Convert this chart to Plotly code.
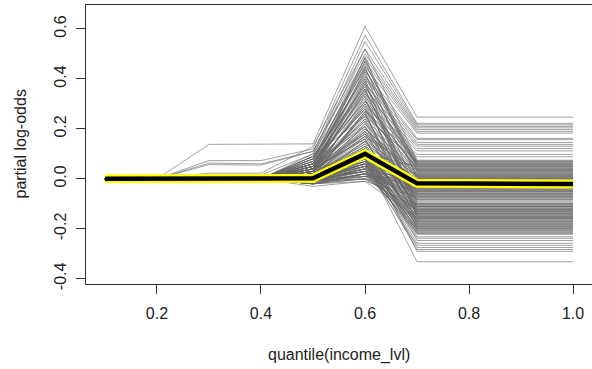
import plotly.graph_objects as go

# Quantile grid of income_lvl at which the partial dependence was evaluated
quantile_x = [0.1, 0.2, 0.3, 0.4, 0.5, 0.6, 0.7, 0.8, 0.9, 1.0]

# Partial dependence (average) curve, log-odds scale
pd_y = [0.0, 0.0, 0.0, 0.0, 0.002, 0.100, -0.018, -0.019, -0.020, -0.021]

# Individual conditional expectation curves.  Every curve is 0 at the
# 0.1 and 0.2 quantiles (and at 0.3/0.4 unless listed in early_idx) and
# stays flat from the 0.7 quantile onwards.
ice_at_05 = [
    0.14, 0.12, 0.10, 0.09, 0.11, 0.07, 0.08, 0.06, 0.05, 0.09,
    0.04, 0.06, 0.03, 0.05, 0.02, 0.04, 0.01,
    0.13, 0.08, 0.10, 0.05, 0.07, 0.04, 0.06, 0.09, 0.03, 0.05,
    0.11, 0.02, 0.06, 0.03, 0.04, 0.01, 0.02, 0.03, 0.05, 0.01,
    0.02, 0.00, 0.03, 0.01, 0.02, 0.00, 0.04, 0.00, 0.01, -0.01,
    0.02, 0.00, 0.01, -0.01, 0.00, 0.00, 0.01, -0.02, 0.00, -0.01,
    0.00, -0.01, 0.00, -0.02, 0.07, 0.00, 0.06, -0.01, 0.04, -0.02,
    0.03, 0.00, 0.02, 0.01, 0.00, -0.01, 0.02, 0.00, -0.01, 0.01,
    0.06, 0.04, 0.00, 0.03, -0.01, 0.05, 0.01, -0.02, 0.03, 0.00,
    0.02, -0.01, 0.08, 0.01, 0.02, -0.02, 0.03, 0.00, 0.01, 0.05,
    -0.01, 0.02, -0.02, 0.01, 0.00, 0.04, 0.01, -0.01, 0.02, 0.00,
    0.01, -0.01, 0.02, 0.00, -0.02, 0.01, 0.00, 0.02, 0.01, -0.01,
    0.00, 0.01, -0.01, 0.07, 0.03, -0.02, 0.04, -0.03, 0.02,
    0.00, -0.01, 0.01, 0.00, -0.02, 0.00, -0.01, 0.01, -0.01,
    0.05, 0.03, 0.08, 0.02, 0.06, 0.04, 0.01, 0.07, 0.03, 0.05,
    0.02, 0.09, 0.04, 0.00, 0.06, 0.03, 0.01, 0.05, 0.02, 0.04,
    0.00, 0.03, 0.06, 0.01, 0.02,
]
ice_at_06 = [
    0.610, 0.575, 0.550, 0.520, 0.500, 0.485, 0.470, 0.450, 0.430, 0.410,
    0.400, 0.380, 0.360, 0.340, 0.310, 0.290, 0.270,
    0.52, 0.46, 0.44, 0.39, 0.42, 0.35, 0.33, 0.37, 0.30, 0.28,
    0.48, 0.26, 0.31, 0.24, 0.22, 0.27, 0.20, 0.18, 0.23, 0.15,
    0.17, 0.13, 0.19, 0.11, 0.14, 0.09, 0.16, 0.08, 0.12, 0.06,
    0.10, 0.05, 0.07, 0.04, 0.09, 0.03, 0.06, 0.02, 0.05, 0.01,
    0.04, 0.00, 0.03, 0.02, 0.45, 0.01, 0.38, 0.00, 0.29, -0.01,
    0.21, 0.03, 0.12, 0.08, 0.04, 0.02, 0.10, 0.06, 0.01, 0.07,
    0.34, 0.25, 0.05, 0.18, 0.02, 0.28, 0.10, 0.00, 0.21, 0.07,
    0.15, 0.03, 0.40, 0.08, 0.12, 0.01, 0.19, 0.06, 0.09, 0.32,
    0.04, 0.13, 0.02, 0.11, 0.05, 0.23, 0.08, 0.03, 0.16, 0.06,
    0.10, 0.04, 0.14, 0.07, 0.02, 0.09, 0.05, 0.12, 0.08, 0.03,
    0.06, 0.11, 0.04, 0.36, 0.17, 0.00, 0.26, -0.01, 0.13,
    0.10, 0.06, 0.12, 0.08, 0.05, 0.09, 0.07, 0.11, 0.08,
    0.47, 0.43, 0.41, 0.39, 0.37, 0.35, 0.33, 0.31, 0.30, 0.28,
    0.27, 0.25, 0.24, 0.22, 0.21, 0.20, 0.19, 0.18, 0.17, 0.16,
    0.15, 0.44, 0.36, 0.26, 0.49,
]
ice_at_07 = [
    0.247, 0.222, 0.216, 0.210, 0.204, 0.197, 0.190, 0.183, 0.162, 0.157,
    0.146, 0.138, 0.131, 0.121, 0.112, 0.098, 0.088,
    0.075, 0.072, 0.068, 0.066, 0.062, 0.059, 0.056, 0.052, 0.049, 0.046,
    0.043, 0.040, 0.037, 0.034, 0.031, 0.028, 0.025, 0.022, 0.019, 0.016,
    0.013, 0.010, 0.007, 0.004, 0.001, -0.002, -0.005, -0.008, -0.011, -0.014,
    -0.017, -0.020, -0.023, -0.026, -0.029, -0.032, -0.035, -0.038, -0.041, -0.044,
    -0.047, -0.050, -0.053, -0.056, -0.059, -0.062, -0.065, -0.068, -0.071, -0.074,
    -0.077, -0.080, -0.083, 0.020, -0.010, -0.030, 0.050, -0.060, 0.000, -0.045,
    -0.096, -0.099, -0.102, -0.105, -0.108, -0.111, -0.114, -0.117, -0.120, -0.123,
    -0.126, -0.129, -0.132, -0.135, -0.138, -0.141, -0.144, -0.147, -0.150, -0.153,
    -0.156, -0.159, -0.162, -0.165, -0.168, -0.171, -0.174, -0.177, -0.180, -0.183,
    -0.186, -0.189, -0.192, -0.195, -0.198, -0.201, -0.204, -0.207, -0.210, -0.213,
    -0.216, -0.219, -0.222, -0.100, -0.110, -0.125, -0.140, -0.155, -0.170,
    -0.232, -0.238, -0.247, -0.258, -0.266, -0.275, -0.283, -0.290, -0.332,
    0.030, -0.120, 0.010, -0.150, 0.060, -0.050, -0.180, 0.040, -0.090, 0.000,
    -0.200, 0.070, -0.130, -0.030, -0.160, 0.015, -0.070, -0.110, 0.035, -0.190,
    -0.040, 0.055, -0.085, -0.140, 0.005,
]

# Curves that already move at the 0.3 / 0.4 quantiles
early_idx = [0, 1, 4, 27, 17, 2]
early_at_03 = [0.138, 0.073, 0.063, 0.057, 0.023, 0.015]
early_at_04 = [0.138, 0.073, 0.060, 0.055, 0.023, 0.015]

x_ticks = [0.2, 0.4, 0.6, 0.8, 1.0]
x_tick_text = ["0.2", "0.4", "0.6", "0.8", "1.0"]
y_ticks = [-0.4, -0.2, 0.0, 0.2, 0.4, 0.6]
y_tick_text = ["-0.4", "-0.2", "0.0", "0.2", "0.4", "0.6"]

x_title = "quantile(income_lvl)"
y_title = "partial log-odds"

FONT = "Liberation Sans, Arial, sans-serif"
AXIS_COLOR = "#333333"
TEXT_COLOR = "#222222"

fig = go.Figure()

early_lookup = {i: (a, b) for i, a, b in zip(early_idx, early_at_03, early_at_04)}
for i, (v5, v6, v7) in enumerate(zip(ice_at_05, ice_at_06, ice_at_07)):
    v3, v4 = early_lookup.get(i, (0.0, 0.0))
    y = [0.0, 0.0, v3, v4, v5, v6, v7, v7, v7, v7]
    fig.add_trace(go.Scatter(
        x=quantile_x, y=y, mode="lines",
        line=dict(color="rgba(100,100,100,0.6)", width=1),
        hoverinfo="skip", showlegend=False,
    ))

# Average curve: yellow halo under a black line
fig.add_trace(go.Scatter(
    x=quantile_x, y=pd_y, mode="lines",
    line=dict(color="#ffff00", width=9),
    hoverinfo="skip", showlegend=False,
))
fig.add_trace(go.Scatter(
    x=quantile_x, y=pd_y, mode="lines",
    line=dict(color="#000000", width=4.5),
    showlegend=False,
))

fig.update_layout(
    width=592, height=369,
    margin=dict(l=86, r=0, t=5, b=85),
    paper_bgcolor="white", plot_bgcolor="white",
    font=dict(family=FONT, size=16, color=TEXT_COLOR),
    xaxis=dict(
        range=[0.0635, 1.0365],
        tickvals=x_ticks, ticktext=x_tick_text,
        ticks="outside", ticklen=9, tickwidth=1, tickcolor=AXIS_COLOR,
        showline=True, linecolor=AXIS_COLOR, linewidth=1, mirror=True,
        showgrid=False, zeroline=False,
        ticklabelstandoff=6,
    ),
    yaxis=dict(
        range=[-0.421, 0.696],
        tickvals=y_ticks, ticktext=y_tick_text, tickangle=-90,
        ticks="outside", ticklen=9, tickwidth=1, tickcolor=AXIS_COLOR,
        showline=True, linecolor=AXIS_COLOR, linewidth=1,
        showgrid=False, zeroline=False,
        ticklabelstandoff=4,
    ),
    annotations=[
        dict(text=x_title, xref="paper", yref="paper", x=0.5, y=-0.2545,
             xanchor="center", yanchor="middle", showarrow=False,
             font=dict(family=FONT, size=16, color=TEXT_COLOR)),
        dict(text=y_title, xref="paper", yref="paper", x=-0.1304, y=0.5,
             xanchor="center", yanchor="middle", showarrow=False, textangle=-90,
             font=dict(family=FONT, size=16, color=TEXT_COLOR)),
    ],
)

fig.write_html("out.html")
